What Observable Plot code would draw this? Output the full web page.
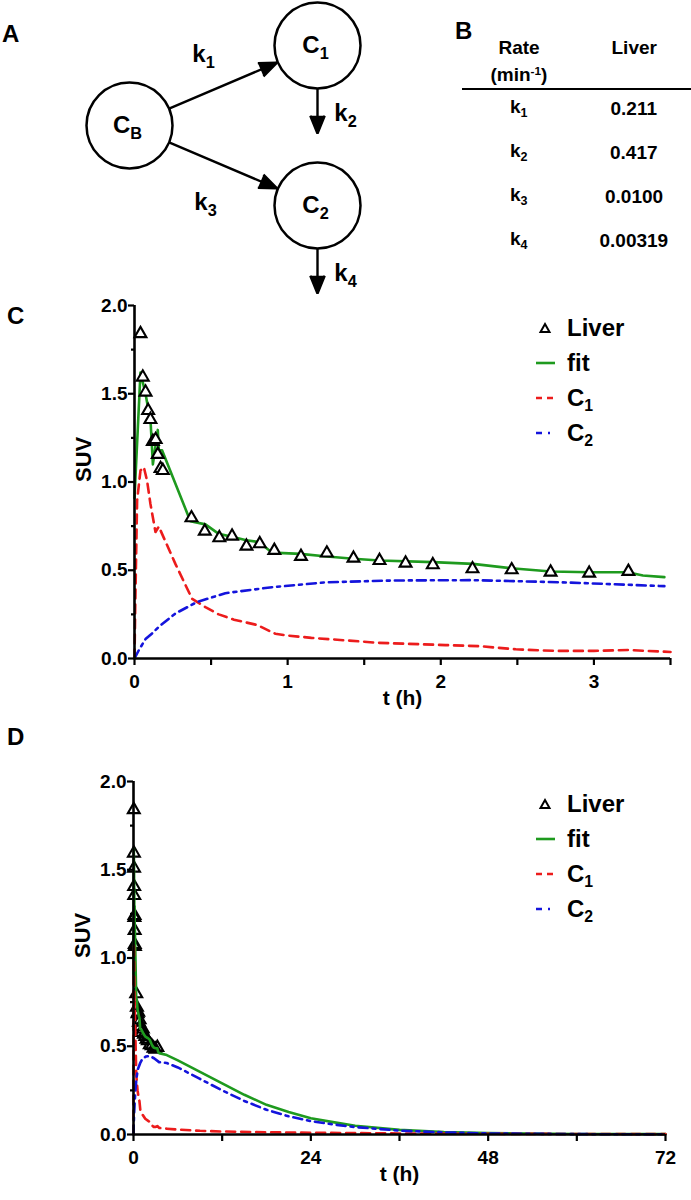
<!DOCTYPE html>
<html><head><meta charset="utf-8">
<script src="https://cdn.jsdelivr.net/npm/d3@7"></script>
<script src="https://cdn.jsdelivr.net/npm/@observablehq/plot@0.6"></script>
<style>
body{margin:0;background:#fff;font-family:"Liberation Sans",Arial,sans-serif;font-weight:bold;color:#000;}
#root{position:relative;width:691px;height:1200px;overflow:hidden;background:#fff;}
.lbl{position:absolute;line-height:1;white-space:nowrap;}
.sub{font-size:0.66em;position:relative;top:0.32em;}
.sup{font-size:0.62em;position:relative;top:-0.45em;}
.legrow{display:flex;align-items:center;height:35px;font-size:24px;line-height:1;}
.legrow svg{flex:none;}
.legrow span.t{margin-left:11px;}
</style></head><body><div id="root"></div>
<script>
// ---------- data ----------
const nodes = [
  {id: "C_B", col: 0, row: 1},
  {id: "C_1", col: 1, row: 2},
  {id: "C_2", col: 1, row: 0}
];
const flows = [
  {from: "C_B", to: "C_1", k: "k_1"},
  {from: "C_1", to: null, k: "k_2"},
  {from: "C_B", to: "C_2", k: "k_3"},
  {from: "C_2", to: null, k: "k_4"}
];
const rateNames = ["k_1", "k_2", "k_3", "k_4"];
const liverRates = ["0.211", "0.417", "0.0100", "0.00319"];
const seriesNames = ["Liver", "fit", "C_1", "C_2"];

const liverT = [0.039,0.054,0.072,0.089,0.104,0.120,0.138,0.152,0.170,0.185,0.372,0.459,0.554,0.637,0.731,0.818,0.913,1.087,1.256,1.430,1.600,1.770,1.948,2.207,2.463,2.717,2.969,3.225];
const liverSUV = [1.84,1.594,1.509,1.405,1.354,1.23,1.24,1.156,1.076,1.065,0.797,0.721,0.684,0.693,0.636,0.650,0.612,0.578,0.597,0.568,0.555,0.540,0.531,0.508,0.502,0.489,0.483,0.493];

const fitT = [0,0.039,0.072,0.093,0.104,0.120,0.152,0.159,0.180,0.365,0.463,0.550,0.637,0.730,0.810,0.898,1.083,1.257,1.430,1.600,1.950,2.210,2.460,2.720,2.970,3.220,3.320,3.460];
const fitV = [0.91,1.62,1.50,1.40,1.36,1.10,1.295,1.18,1.18,0.778,0.76,0.706,0.69,0.67,0.66,0.60,0.593,0.578,0.565,0.555,0.546,0.536,0.511,0.493,0.489,0.489,0.47,0.461];

const c1T = [0,0.005,0.017,0.039,0.061,0.082,0.104,0.137,0.159,0.180,0.267,0.376,0.463,0.550,0.650,0.800,0.920,1.000,1.155,1.590,2.030,2.250,2.490,2.750,3.000,3.220,3.500];
const c1V = [0,0.30,0.895,1.065,1.084,1.008,0.876,0.717,0.748,0.706,0.536,0.338,0.291,0.25,0.22,0.19,0.14,0.13,0.117,0.089,0.076,0.07,0.052,0.043,0.043,0.048,0.037];

const c2T = [0,0.030,0.072,0.125,0.159,0.267,0.408,0.593,0.898,1.257,1.690,2.210,2.780,3.460];
const c2V = [0,0.05,0.11,0.15,0.18,0.255,0.32,0.37,0.404,0.432,0.442,0.444,0.432,0.41];

// late-time portion shown only in the 72 h panel
const fitLateT = [4.5,6,9,12,15,18,21,24,27,30,36,42,48,60,72];
const fitLateV = [0.45,0.42,0.355,0.29,0.225,0.168,0.128,0.092,0.07,0.05,0.026,0.014,0.008,0.003,0.002];
const c2LateT = [4.5,6,9,12,15,18,21,24,27,30,36,42,48,60,72];
const c2LateV = [0.405,0.38,0.315,0.25,0.19,0.14,0.103,0.076,0.057,0.042,0.022,0.012,0.006,0.002,0.001];
const c1LateT = [4.5,6,9,12,18,24,36,48,60,72];
const c1LateV = [0.033,0.028,0.021,0.017,0.013,0.01,0.006,0.004,0.003,0.002];

const yTicks = [0, 0.5, 1, 1.5, 2];
const yMinor = [0.25, 0.75, 1.25, 1.75];
const xTicksC = [0, 1, 2, 3], xMinorC = [0.5, 1.5, 2.5, 3.5];
const xTicksD = [0, 24, 48, 72], xMinorD = [12, 36, 60];

// ---------- helpers ----------
const zip = (a, b) => a.map((t, i) => ({t, v: b[i]}));
const root = document.getElementById("root");
const FONT = "Liberation Sans, Arial, sans-serif";
const GREEN = "#1e9a1e", RED = "#ec1c1c", BLUE = "#1414dc";

function subHTML(s) {
  const m = s.match(/^(.*)_(.+)$/);
  return m ? `${m[1]}<span class="sub">${m[2]}</span>` : s;
}
function subSVG(svg) {
  const ns = "http://www.w3.org/2000/svg";
  svg.querySelectorAll("text").forEach(t => {
    const m = t.textContent.match(/^(.*)_(.+)$/);
    if (!m) return;
    t.textContent = "";
    const a = document.createElementNS(ns, "tspan"); a.textContent = m[1];
    const b = document.createElementNS(ns, "tspan"); b.textContent = m[2];
    b.setAttribute("font-size", "0.68em"); b.setAttribute("dy", "0.38em");
    t.append(a, b);
  });
}
function place(el, left, top) {
  el.style.position = "absolute"; el.style.left = left + "px"; el.style.top = top + "px";
  root.appendChild(el); return el;
}
function label(html, left, top, size, extra = "") {
  const d = document.createElement("div");
  d.className = "lbl"; d.innerHTML = html;
  d.style.cssText += `left:${left}px;top:${top}px;font-size:${size}px;${extra}`;
  root.appendChild(d); return d;
}

// ---------- panel letters ----------
label("A", 2, 22, 24);
label("B", 455, 19, 24);
label("C", 7, 304, 24);
label("D", 7, 725, 24);

// ---------- panel A : compartment diagram ----------
{
  const byId = new Map(nodes.map(n => [n.id, n]));
  const edges = flows.map(f => {
    const a = byId.get(f.from);
    const b = f.to ? byId.get(f.to) : {col: a.col, row: a.row - 1.1};
    return {...f, x1: a.col, y1: a.row, x2: b.col, y2: b.row, out: !f.to, up: b.row > a.row};
  });
  const mx = d => (d.x1 + d.x2) / 2, my = d => (d.y1 + d.y2) / 2;
  const svg = Plot.plot({
    width: 380, height: 300,
    marginLeft: 129, marginRight: 63, marginTop: 45, marginBottom: 95,
    x: {domain: [0, 1], axis: null}, y: {domain: [0, 2], axis: null},
    style: {fontFamily: FONT, fontWeight: "bold", color: "black", background: "transparent", overflow: "visible"},
    marks: [
      Plot.arrow(edges.filter(d => !d.out), {x1: "x1", y1: "y1", x2: "x2", y2: "y2", insetStart: 43, insetEnd: 44,
        stroke: "black", fill: "black", strokeWidth: 2.4, headLength: 12, headAngle: 44, strokeLinecap: "butt", strokeLinejoin: "miter"}),
      Plot.arrow(edges.filter(d => d.out), {x1: "x1", y1: "y1", x2: "x2", y2: "y2", insetStart: 43, insetEnd: 0,
        stroke: "black", fill: "black", strokeWidth: 2.4, headLength: 12, headAngle: 44, strokeLinecap: "butt", strokeLinejoin: "miter"}),
      Plot.dot(nodes, {x: "col", y: "row", r: 43, stroke: "black", strokeWidth: 2.5, fill: "white"}),
      Plot.text(nodes, {x: "col", y: "row", text: "id", fontSize: 24, fontWeight: "bold", dx: -2}),
      Plot.text(edges.filter(d => !d.out && d.up), {x: mx, y: my, text: "k", fontSize: 24, dx: -20, dy: -31}),
      Plot.text(edges.filter(d => !d.out && !d.up), {x: mx, y: my, text: "k", fontSize: 24, dx: -18, dy: 37}),
      Plot.text(edges.filter(d => d.out), {x: mx, y: my, text: "k", fontSize: 24, dx: 28, dy: 24})
    ]
  });
  subSVG(svg);
  place(svg, 0, 0);
}

// ---------- panel B : rate table ----------
{
  const colK = 519, colV = 634, fs = 19;
  const c = (txt, cx, cy) => { const d = label(txt, 0, cy - fs / 2, fs); d.style.left = (cx - d.offsetWidth / 2) + "px"; return d; };
  c("Rate", colK, 47);
  c('(min<span class="sup">-1</span>)', colK, 74);
  c("Liver", colV, 47);
  const line = document.createElement("div");
  line.style.cssText = "background:#000;width:229px;height:2px;";
  place(line, 462, 88);
  rateNames.forEach((k, i) => {
    c(subHTML(k), colK, 106 + i * 44.3);
    c(liverRates[i], colV, 108 + i * 44.3);
  });
}

// ---------- panels C and D : time–activity curves ----------
function curvePanel({top, ml, mr, xDomain, xTicks, xMinor, fit, c1, c2, pts, dotsFirst}) {
  const axisStyle = {fontSize: 19, fontWeight: "bold", strokeWidth: 2.2, label: null};
  const lines = [
    Plot.line(fit, {x: "t", y: "v", stroke: GREEN, strokeWidth: 2.6}),
    Plot.line(c1, {x: "t", y: "v", stroke: RED, strokeWidth: 2.6, strokeDasharray: "9,6"}),
    Plot.line(c2, {x: "t", y: "v", stroke: BLUE, strokeWidth: 2.6, strokeDasharray: "9,5,3,5"})
  ];
  const dots = Plot.dot(pts, {x: "t", y: "v", symbol: "triangle", r: 4.4, stroke: "black", strokeWidth: 2.1, fill: dotsFirst ? "none" : "white"});
  const svg = Plot.plot({
    width: 691, height: 440,
    marginLeft: ml, marginRight: mr, marginTop: 25, marginBottom: 62,
    x: {domain: xDomain, axis: null}, y: {domain: [0, 2], axis: null},
    style: {fontFamily: FONT, fontWeight: "bold", color: "black", background: "transparent", overflow: "visible"},
    marks: [
      ...(dotsFirst ? [dots, ...lines] : [...lines, dots]),
      Plot.ruleY([0], {stroke: "black", strokeWidth: 2.6}),
      Plot.ruleX([0], {y1: 0, y2: 2, stroke: "black", strokeWidth: 2.6}),
      Plot.axisY({...axisStyle, ticks: yTicks, tickFormat: d3.format(".1f"), tickSize: 6, tickPadding: 1}),
      Plot.axisY({...axisStyle, ticks: yMinor, tickFormat: () => "", tickSize: 3}),
      Plot.axisX({...axisStyle, ticks: xTicks, tickFormat: d3.format("d"), tickSize: 7, tickPadding: 9}),
      Plot.axisX({...axisStyle, ticks: xMinor, tickFormat: () => "", tickSize: 7}),
      Plot.text(["t (h)"], {text: d => d, frameAnchor: "bottom", dy: 46, fontSize: 21, fontWeight: "bold"}),
      Plot.text(["SUV"], {text: d => d, frameAnchor: "left", rotate: -90, dx: -51, fontSize: 22, fontWeight: "bold"})
    ]
  });
  place(svg, 0, top);
  // legend
  const leg = document.createElement("div");
  const sw = {
    Liver: `<polygon points="11,4 15.5,12 6.5,12" fill="white" stroke="black" stroke-width="2"/>`,
    fit: `<line x1="2" y1="8" x2="21" y2="8" stroke="${GREEN}" stroke-width="2.6"/>`,
    C_1: `<line x1="2" y1="8" x2="21" y2="8" stroke="${RED}" stroke-width="2.6" stroke-dasharray="6,5"/>`,
    C_2: `<line x1="2" y1="8" x2="21" y2="8" stroke="${BLUE}" stroke-width="2.6" stroke-dasharray="6,6,2,6"/>`
  };
  leg.innerHTML = seriesNames.map(n =>
    `<div class="legrow"><svg width="22" height="16">${sw[n]}</svg><span class="t">${subHTML(n)}</span></div>`).join("");
  place(leg, 534, top + 25 + 5.5);
}

curvePanel({
  top: 280, ml: 134, mr: 21, xDomain: [0, 3.5], xTicks: xTicksC, xMinor: xMinorC,
  fit: zip(fitT, fitV), c1: zip(c1T, c1V), c2: zip(c2T, c2V), pts: zip(liverT, liverSUV), dotsFirst: false
});
curvePanel({
  top: 756, ml: 133, mr: 26, xDomain: [0, 72], xTicks: xTicksD, xMinor: xMinorD,
  fit: zip(fitT.concat(fitLateT), fitV.concat(fitLateV)),
  c1: zip(c1T.concat(c1LateT), c1V.concat(c1LateV)),
  c2: zip(c2T.concat(c2LateT), c2V.concat(c2LateV)),
  pts: zip(liverT, liverSUV), dotsFirst: true
});
</script></body></html>
